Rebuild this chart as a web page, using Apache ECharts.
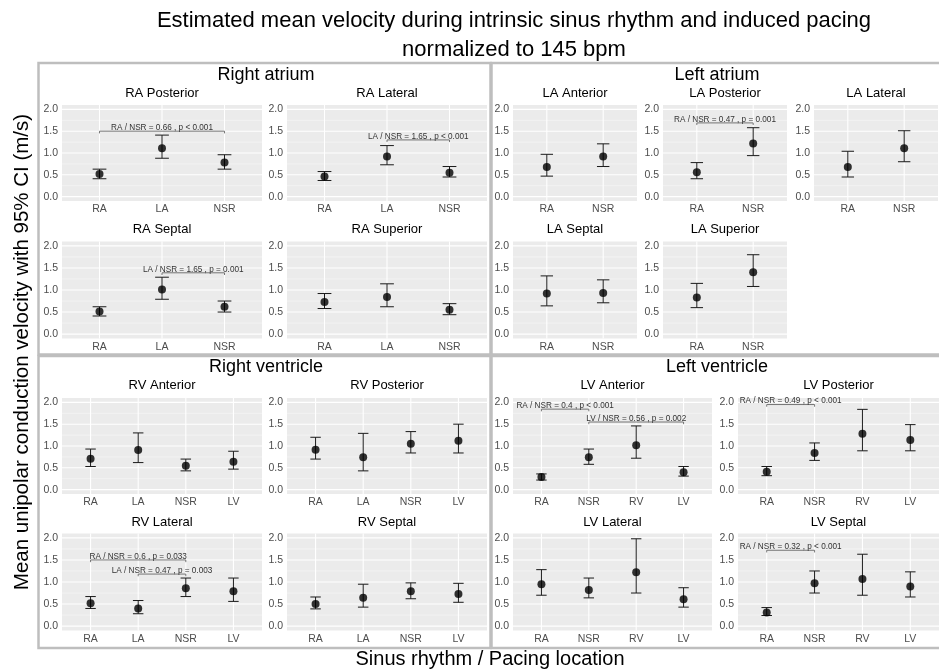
<!DOCTYPE html>
<html><head><meta charset="utf-8">
<script src="https://cdn.jsdelivr.net/npm/echarts@6/dist/echarts.min.js"></script>
<style>html,body{margin:0;padding:0;background:#fff}#chart{width:939px;height:671px}</style>
</head><body><div id="chart"></div>
<script>
const FONT = '"Liberation Sans", Arial, Helvetica, sans-serif';

// ---------- tick labels / categories ----------
const yTicks = [0, 0.5, 1.0, 1.5, 2.0];
const yMinor = [0.25, 0.75, 1.25, 1.75];
const raCats = ['RA', 'LA', 'NSR'];
const laCats = ['RA', 'NSR'];
const rvCats = ['RA', 'LA', 'NSR', 'LV'];
const lvCats = ['RA', 'NSR', 'RV', 'LV'];

// ---------- data: mean, lower and upper 95% CI ----------
const raPosteriorMean = [0.52, 1.11, 0.78];
const raPosteriorLow  = [0.41, 0.88, 0.63];
const raPosteriorHigh = [0.63, 1.41, 0.96];
const raPosteriorSig  = [['RA', 'NSR', 1.5, 'RA / NSR = 0.66 , p < 0.001']];

const raLateralMean = [0.46, 0.92, 0.55];
const raLateralLow  = [0.37, 0.73, 0.45];
const raLateralHigh = [0.575, 1.17, 0.69];
const raLateralSig  = [['LA', 'NSR', 1.3, 'LA / NSR = 1.65 , p < 0.001']];

const raSeptalMean = [0.51, 1.01, 0.62];
const raSeptalLow  = [0.41, 0.79, 0.50];
const raSeptalHigh = [0.62, 1.29, 0.75];
const raSeptalSig  = [['LA', 'NSR', 1.39, 'LA / NSR = 1.65 , p = 0.001']];

const raSuperiorMean = [0.73, 0.84, 0.55];
const raSuperiorLow  = [0.58, 0.62, 0.44];
const raSuperiorHigh = [0.92, 1.14, 0.69];
const raSuperiorSig  = [];

const laAnteriorMean = [0.68, 0.92];
const laAnteriorLow  = [0.47, 0.69];
const laAnteriorHigh = [0.97, 1.21];
const laAnteriorSig  = [];

const laPosteriorMean = [0.56, 1.22];
const laPosteriorLow  = [0.41, 0.94];
const laPosteriorHigh = [0.78, 1.58];
const laPosteriorSig  = [['RA', 'NSR', 1.69, 'RA / NSR = 0.47 , p = 0.001']];

const laLateralMean = [0.68, 1.11];
const laLateralLow  = [0.45, 0.80];
const laLateralHigh = [1.04, 1.51];
const laLateralSig  = [];

const laSeptalMean = [0.92, 0.93];
const laSeptalLow  = [0.64, 0.71];
const laSeptalHigh = [1.32, 1.23];
const laSeptalSig  = [];

const laSuperiorMean = [0.83, 1.40];
const laSuperiorLow  = [0.60, 1.08];
const laSuperiorHigh = [1.15, 1.80];
const laSuperiorSig  = [];

const rvAnteriorMean = [0.705, 0.91, 0.55, 0.64];
const rvAnteriorLow  = [0.53, 0.62, 0.43, 0.47];
const rvAnteriorHigh = [0.93, 1.30, 0.70, 0.88];
const rvAnteriorSig  = [];

const rvPosteriorMean = [0.915, 0.745, 1.05, 1.12];
const rvPosteriorLow  = [0.70, 0.43, 0.84, 0.84];
const rvPosteriorHigh = [1.20, 1.29, 1.33, 1.50];
const rvPosteriorSig  = [];

const rvLateralMean = [0.52, 0.40, 0.86, 0.79];
const rvLateralLow  = [0.40, 0.28, 0.67, 0.56];
const rvLateralHigh = [0.67, 0.58, 1.09, 1.09];
const rvLateralSig  = [['RA', 'NSR', 1.5, 'RA / NSR = 0.6 , p = 0.033'], ['LA', 'NSR', 1.18, 'LA / NSR = 0.47 , p = 0.003']];

const rvSeptalMean = [0.50, 0.64, 0.79, 0.73];
const rvSeptalLow  = [0.39, 0.43, 0.62, 0.54];
const rvSeptalHigh = [0.66, 0.95, 0.98, 0.97];
const rvSeptalSig  = [];

const lvAnteriorMean = [0.29, 0.74, 1.02, 0.40];
const lvAnteriorLow  = [0.22, 0.58, 0.72, 0.31];
const lvAnteriorHigh = [0.36, 0.93, 1.46, 0.53];
const lvAnteriorSig  = [['RA', 'NSR', 1.845, 'RA / NSR = 0.4 , p < 0.001'], ['NSR', 'LV', 1.55, 'LV / NSR = 0.56 , p = 0.002']];

const lvPosteriorMean = [0.41, 0.84, 1.28, 1.14];
const lvPosteriorLow  = [0.32, 0.67, 0.89, 0.89];
const lvPosteriorHigh = [0.53, 1.07, 1.84, 1.49];
const lvPosteriorSig  = [['RA', 'NSR', 1.95, 'RA / NSR = 0.49 , p < 0.001']];

const lvLateralMean = [0.95, 0.82, 1.22, 0.61];
const lvLateralLow  = [0.70, 0.64, 0.75, 0.43];
const lvLateralHigh = [1.28, 1.09, 1.98, 0.87];
const lvLateralSig  = [];

const lvSeptalMean = [0.31, 0.97, 1.07, 0.90];
const lvSeptalLow  = [0.24, 0.75, 0.70, 0.66];
const lvSeptalHigh = [0.42, 1.25, 1.63, 1.23];
const lvSeptalSig  = [['RA', 'NSR', 1.72, 'RA / NSR = 0.32 , p < 0.001']];

// ---------- layout (positions only) ----------
const ROW_T = [105, 241.5, 398, 533.5];
const ROW_H = [96, 97, 96, 97];
const TITLE_Y = [93, 229, 385, 522];
const panels = [
  {t:'RA Posterior', c:raCats, m:raPosteriorMean, lo:raPosteriorLow, hi:raPosteriorHigh, s:raPosteriorSig, x:62, w:200, r:0},
  {t:'RA Lateral',   c:raCats, m:raLateralMean,   lo:raLateralLow,   hi:raLateralHigh,   s:raLateralSig,   x:287, w:200, r:0},
  {t:'RA Septal',    c:raCats, m:raSeptalMean,    lo:raSeptalLow,    hi:raSeptalHigh,    s:raSeptalSig,    x:62, w:200, r:1},
  {t:'RA Superior',  c:raCats, m:raSuperiorMean,  lo:raSuperiorLow,  hi:raSuperiorHigh,  s:raSuperiorSig,  x:287, w:200, r:1},
  {t:'LA Anterior',  c:laCats, m:laAnteriorMean,  lo:laAnteriorLow,  hi:laAnteriorHigh,  s:laAnteriorSig,  x:513, w:124, r:0},
  {t:'LA Posterior', c:laCats, m:laPosteriorMean, lo:laPosteriorLow, hi:laPosteriorHigh, s:laPosteriorSig, x:663, w:124, r:0},
  {t:'LA Lateral',   c:laCats, m:laLateralMean,   lo:laLateralLow,   hi:laLateralHigh,   s:laLateralSig,   x:814, w:124, r:0},
  {t:'LA Septal',    c:laCats, m:laSeptalMean,    lo:laSeptalLow,    hi:laSeptalHigh,    s:laSeptalSig,    x:513, w:124, r:1},
  {t:'LA Superior',  c:laCats, m:laSuperiorMean,  lo:laSuperiorLow,  hi:laSuperiorHigh,  s:laSuperiorSig,  x:663, w:124, r:1},
  {t:'RV Anterior',  c:rvCats, m:rvAnteriorMean,  lo:rvAnteriorLow,  hi:rvAnteriorHigh,  s:rvAnteriorSig,  x:62, w:200, r:2},
  {t:'RV Posterior', c:rvCats, m:rvPosteriorMean, lo:rvPosteriorLow, hi:rvPosteriorHigh, s:rvPosteriorSig, x:287, w:200, r:2},
  {t:'RV Lateral',   c:rvCats, m:rvLateralMean,   lo:rvLateralLow,   hi:rvLateralHigh,   s:rvLateralSig,   x:62, w:200, r:3},
  {t:'RV Septal',    c:rvCats, m:rvSeptalMean,    lo:rvSeptalLow,    hi:rvSeptalHigh,    s:rvSeptalSig,    x:287, w:200, r:3},
  {t:'LV Anterior',  c:lvCats, m:lvAnteriorMean,  lo:lvAnteriorLow,  hi:lvAnteriorHigh,  s:lvAnteriorSig,  x:513, w:199, r:2},
  {t:'LV Posterior', c:lvCats, m:lvPosteriorMean, lo:lvPosteriorLow, hi:lvPosteriorHigh, s:lvPosteriorSig, x:738, w:201, r:2},
  {t:'LV Lateral',   c:lvCats, m:lvLateralMean,   lo:lvLateralLow,   hi:lvLateralHigh,   s:lvLateralSig,   x:513, w:199, r:3},
  {t:'LV Septal',    c:lvCats, m:lvSeptalMean,    lo:lvSeptalLow,    hi:lvSeptalHigh,    s:lvSeptalSig,    x:738, w:201, r:3}
];

const CAP = 0.22;   // errorbar cap width (category units)
const TIP = 0.05;   // bracket tip length (value units)
const Y_MIN = -0.1, Y_MAX = 2.1;

const option = {
  animation: false,
  backgroundColor: '#ffffff',
  grid: [], xAxis: [], yAxis: [], series: [], graphic: []
};

const txt = (text, x, y, size, extra) => Object.assign({
  type: 'text', x: x, y: y, silent: true,
  style: {text: text, fontSize: size, fontFamily: FONT, fill: '#000', align: 'center', verticalAlign: 'middle'}
}, extra || {});

// group boxes
const boxStyle = {fill: 'transparent', stroke: '#bebebe', lineWidth: 2.5};
[[38.5, 63, 452, 291.5], [491.5, 63, 452, 291.5], [38.5, 356, 452, 292], [491.5, 356, 452, 292]].forEach(b => {
  option.graphic.push({type: 'rect', silent: true, z: -10, shape: {x: b[0], y: b[1], width: b[2], height: b[3]}, style: boxStyle});
});

option.graphic.push(txt('Estimated mean velocity during intrinsic sinus rhythm and induced pacing', 514, 21, 22));
option.graphic.push(txt('normalized to 145 bpm', 514, 50, 22));
option.graphic.push(txt('Right atrium', 266, 75, 18));
option.graphic.push(txt('Left atrium', 717, 75, 18));
option.graphic.push(txt('Right ventricle', 266, 367, 18));
option.graphic.push(txt('Left ventricle', 717, 367, 18));
option.graphic.push(txt('Sinus rhythm / Pacing location', 490, 659, 20));
option.graphic.push(txt('Mean unipolar conduction velocity with 95% CI (m/s)', 22, 352, 20.5, {rotation: Math.PI / 2}));

panels.forEach((p, i) => {
  const n = p.c.length;
  const idx = p.c.map((_, k) => k);
  const top = ROW_T[p.r], h = ROW_H[p.r];
  const xMin = -0.6, xMax = n - 0.4;
  option.graphic.push(txt(p.t, p.x + p.w / 2, TITLE_Y[p.r], 13));
  option.grid.push({left: p.x, top: top, width: p.w, height: h, show: false, z: 0, containLabel: false});
  option.xAxis.push({
    type: 'value', gridIndex: i, min: xMin, max: xMax,
    axisLine: {show: false}, splitLine: {show: false}, minorSplitLine: {show: false},
    axisTick: {show: true, length: 3, lineStyle: {color: '#333', width: 0.8}, customValues: idx},
    axisLabel: {customValues: idx, formatter: v => p.c[Math.round(v)], fontSize: 10.5, color: '#4d4d4d', margin: 3, fontFamily: FONT}
  });
  option.yAxis.push({
    type: 'value', gridIndex: i, min: Y_MIN, max: Y_MAX,
    axisLine: {show: false}, splitLine: {show: false}, minorSplitLine: {show: false},
    axisTick: {show: true, length: 3, lineStyle: {color: '#333', width: 0.8}, customValues: yTicks},
    axisLabel: {customValues: yTicks, formatter: v => v.toFixed(1), fontSize: 10.5, color: '#4d4d4d', margin: 4, fontFamily: FONT}
  });
  // panel background + white grid lines, positioned from axis ranges/tick values through the axes
  option.series.push({
    type: 'custom', xAxisIndex: i, yAxisIndex: i, z: 2, silent: true, clip: false,
    data: [[0, 1]],
    renderItem: (params, api) => {
      const tl = api.coord([xMin, Y_MAX]), br = api.coord([xMax, Y_MIN]);
      const children = [{type: 'rect', z2: 0, shape: {x: tl[0], y: tl[1], width: br[0] - tl[0], height: br[1] - tl[1]}, style: {fill: '#ebebeb', stroke: null}}];
      yMinor.forEach(v => {
        const y = api.coord([xMin, v])[1];
        children.push({type: 'line', z2: 1, shape: {x1: tl[0], y1: y, x2: br[0], y2: y}, style: {stroke: '#f8f8f8', lineWidth: 0.6, fill: null}});
      });
      yTicks.forEach(v => {
        const y = api.coord([xMin, v])[1];
        children.push({type: 'line', z2: 2, shape: {x1: tl[0], y1: y, x2: br[0], y2: y}, style: {stroke: '#ffffff', lineWidth: 1.1, fill: null}});
      });
      idx.forEach(k => {
        const x = api.coord([k, Y_MIN])[0];
        children.push({type: 'line', z2: 2, shape: {x1: x, y1: tl[1], x2: x, y2: br[1]}, style: {stroke: '#ffffff', lineWidth: 1.1, fill: null}});
      });
      return {type: 'group', children: children};
    }
  });
  // error bars
  option.series.push({
    type: 'custom', xAxisIndex: i, yAxisIndex: i, z: 3, silent: true, clip: false,
    data: idx.map(k => [k, p.lo[k], p.hi[k]]),
    encode: {x: 0, y: [1, 2]},
    renderItem: (params, api) => {
      const x = api.value(0), lo = api.value(1), hi = api.value(2);
      const a = api.coord([x, hi]), b = api.coord([x, lo]);
      const hw = api.coord([x + CAP / 2, hi])[0] - a[0];
      const st = {stroke: '#1a1a1a', lineWidth: 1};
      return {type: 'group', children: [
        {type: 'line', shape: {x1: a[0], y1: a[1], x2: b[0], y2: b[1]}, style: st},
        {type: 'line', shape: {x1: a[0] - hw, y1: a[1], x2: a[0] + hw, y2: a[1]}, style: st},
        {type: 'line', shape: {x1: b[0] - hw, y1: b[1], x2: b[0] + hw, y2: b[1]}, style: st}
      ]};
    }
  });
  // mean points
  option.series.push({
    type: 'scatter', xAxisIndex: i, yAxisIndex: i, z: 4, silent: true,
    symbol: 'circle', symbolSize: 8, itemStyle: {color: '#000'},
    data: idx.map(k => [k, p.m[k]])
  });
  // significance brackets
  if (p.s.length) {
    option.series.push({
      type: 'custom', xAxisIndex: i, yAxisIndex: i, z: 5, silent: true, clip: false,
      data: p.s.map(s => [p.c.indexOf(s[0]), s[2], p.c.indexOf(s[1])]),
      encode: {x: [0, 2], y: 1},
      renderItem: (params, api) => {
        const s = p.s[params.dataIndex];
        const yv = api.value(1);
        const a = api.coord([api.value(0), yv]), b = api.coord([api.value(2), yv]);
        const tip = api.coord([0, yv - TIP])[1] - a[1];
        return {type: 'group', children: [
          {type: 'polyline', shape: {points: [[a[0], a[1] + tip], [a[0], a[1]], [b[0], b[1]], [b[0], b[1] + tip]]}, style: {stroke: '#555', lineWidth: 0.8, fill: null}},
          {type: 'text', style: {text: s[3], x: (a[0] + b[0]) / 2, y: a[1] + 0.5, align: 'center', verticalAlign: 'bottom', fontSize: 8.2, fontFamily: FONT, fill: '#333'}}
        ]};
      }
    });
  }
});

const chart = echarts.init(document.getElementById('chart'), null, {renderer: 'canvas'});
chart.setOption(option);
</script>
</body></html>
